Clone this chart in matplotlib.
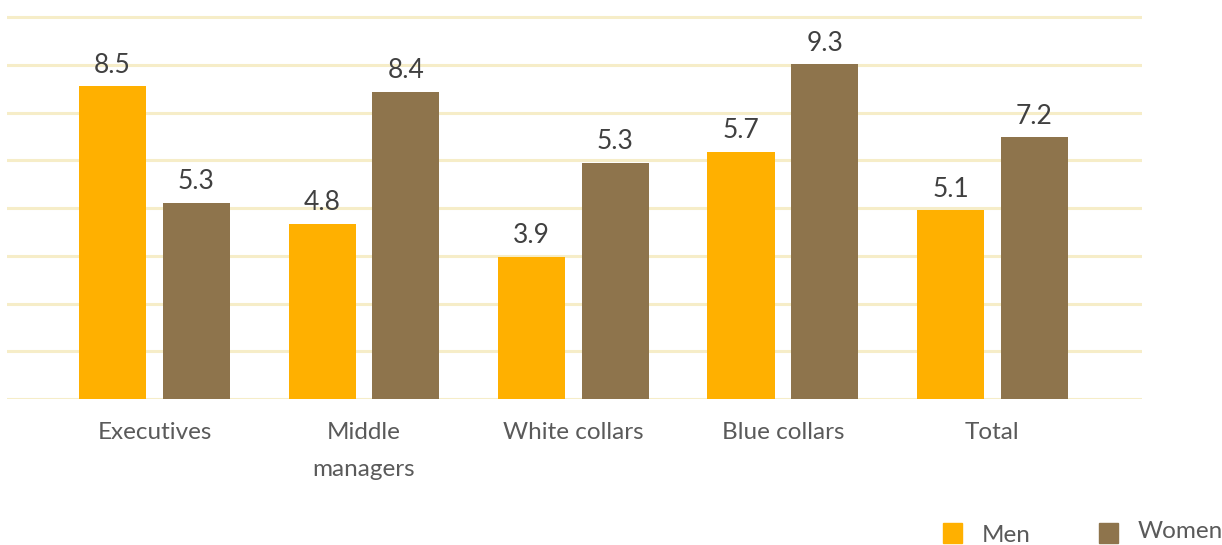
import numpy as np
import matplotlib.pyplot as plt
from matplotlib.patches import Rectangle

# Categories and values (labels printed on the bars)
categories = ["Executives", "Middle\nmanagers", "White collars", "Blue collars", "Total"]
men_labels = ["8.5", "4.8", "3.9", "5.7", "5.1"]
women_labels = ["5.3", "8.4", "5.3", "9.3", "7.2"]
# Bar heights as drawn in the picture (grid units)
men_heights = [6.56, 3.67, 2.98, 5.18, 3.96]
women_heights = [4.11, 6.44, 4.95, 7.02, 5.49]

MEN_C = "#FFB000"
WOMEN_C = "#8E744C"
GRID_C = "#F6EDC8"
FONT = "Lato"

plt.rcParams["font.family"] = [FONT, "DejaVu Sans"]

W, H = 1222, 545
fig = plt.figure(figsize=(W / 100, H / 100), dpi=100)
ax = fig.add_axes([0.0057, 0.2679, 0.9288, 0.7138])

x = np.arange(len(categories))
w = 0.32
off = 0.2
b1 = ax.bar(x - off, men_heights, w, color=MEN_C, zorder=3)
b2 = ax.bar(x + off, women_heights, w, color=WOMEN_C, zorder=3)

for bars, labels in ((b1, men_labels), (b2, women_labels)):
    for rect, lab in zip(bars, labels):
        ax.annotate(lab, (rect.get_x() + rect.get_width() / 2, rect.get_height()),
                    xytext=(0, 6), textcoords="offset points", ha="center", va="bottom",
                    fontsize=19, color="#404040")

ax.set_xlim(-0.704, 4.714)
ax.set_ylim(0, 8.15)
ax.set_yticks(np.arange(0, 9))
ax.yaxis.grid(True, color=GRID_C, linewidth=2.2, zorder=0)
ax.tick_params(axis="y", left=False, labelleft=False)
ax.tick_params(axis="x", bottom=False, pad=13)
ax.set_xticks(x, categories, fontsize=17.5, color="#5a5a5a",
              linespacing=1.95, va="top")
for s in ax.spines.values():
    s.set_visible(False)

# legend: square + label, placed in figure pixels
for (sx, tx, ty, lab, col) in ((943, 982, 535, "Men", MEN_C),
                               (1099, 1138, 531, "Women", WOMEN_C)):
    fig.patches.append(Rectangle((sx / W, (H - 543) / H), 19 / W, 20 / H,
                                 transform=fig.transFigure, color=col))
    fig.text(tx / W, (H - ty) / H, lab, ha="left", va="center",
             fontsize=17.5, color="#5a5a5a")

fig.savefig("out.png", dpi=100)
